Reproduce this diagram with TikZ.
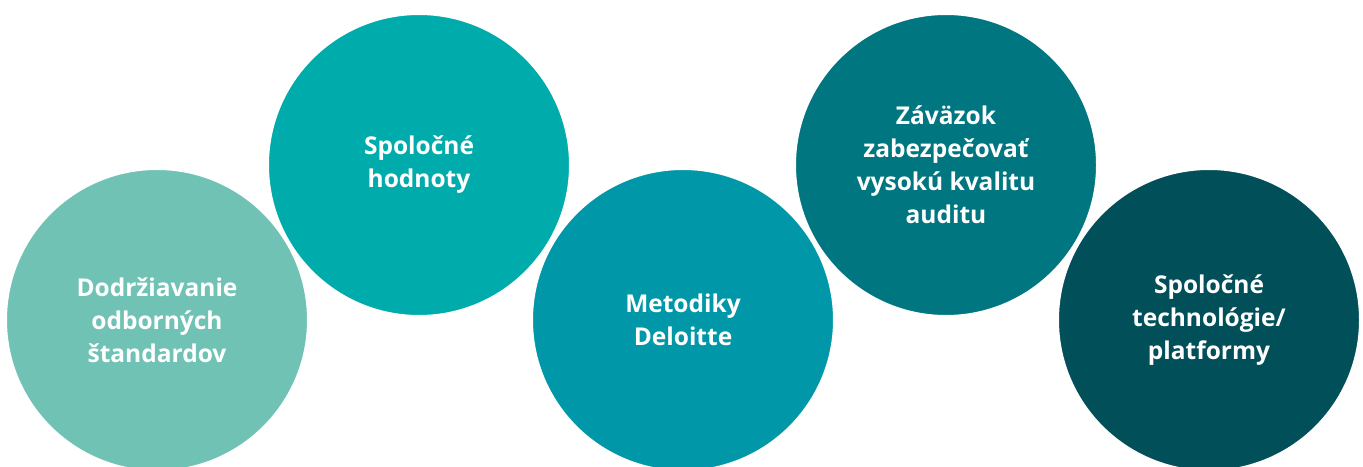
\documentclass[tikz,border=0pt]{standalone}
\usepackage{fontspec}
\setmainfont{Open Sans}
\definecolor{tealA}{HTML}{6FC2B4}
\definecolor{tealB}{HTML}{00ABAB}
\definecolor{tealC}{HTML}{0097A9}
\definecolor{tealD}{HTML}{007680}
\definecolor{tealE}{HTML}{004F59}
\begin{document}
\begin{tikzpicture}[x=1pt,y=-1pt,
  bubble/.style={circle,draw=white,line width=2pt,minimum size=302pt,inner sep=0pt,
    text=white,align=center,font=\bfseries\fontsize{24.5}{33}\selectfont}]
\useasboundingbox (0,0) rectangle (1363,466);
\clip (0,0) rectangle (1363,466);
\node[bubble,fill=tealA] (b1) at (157,320) {Dodržiavanie\\odborných\\štandardov};
\node[bubble,fill=tealB] (b2) at (419,165) {Spoločné\\hodnoty};
\node[bubble,fill=tealC] (b3) at (683,320) {Metodiky\\Deloitte};
\node[bubble,fill=tealD] (b4) at (946,165) {Záväzok\\zabezpečovať\\vysokú kvalitu\\auditu};
\node[bubble,fill=tealE] (b5) at (1209,320) {Spoločné\\technológie/\\platformy};
\end{tikzpicture}
\end{document}
